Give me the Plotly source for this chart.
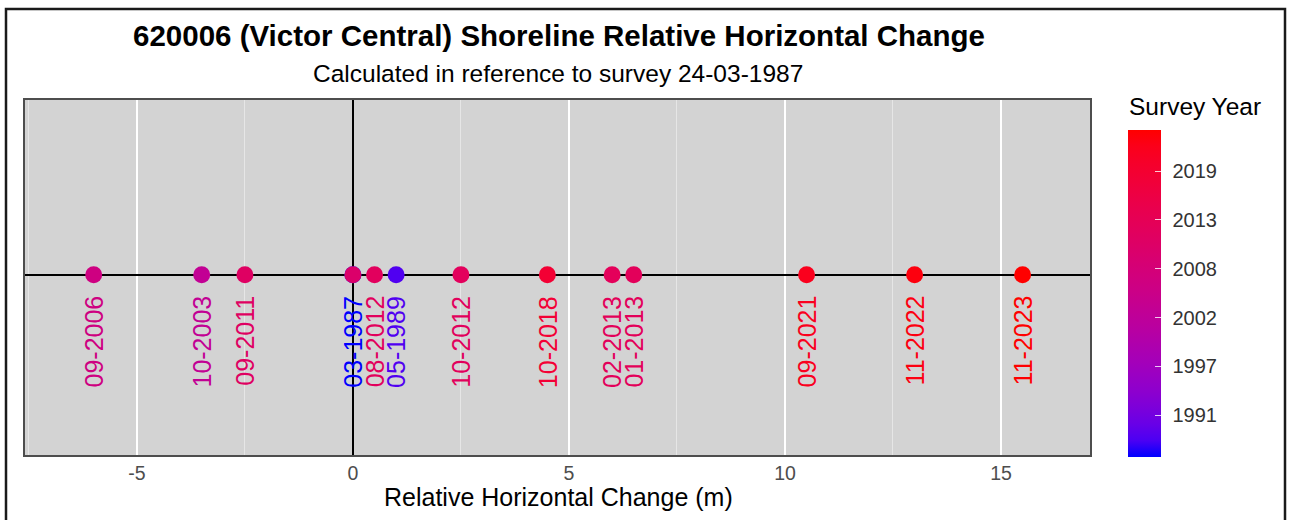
import numpy as np
import pandas as pd
import plotly.graph_objects as go

# ---------------- data ----------------
survey_labels = ["09-2006", "10-2003", "09-2011", "03-1987", "", "08-2012", "05-1989",
                 "10-2012", "10-2018", "02-2013", "01-2013", "09-2021", "11-2022", "11-2023"]
survey_dates = ["2006-09-15", "2003-10-15", "2011-09-15", "1987-03-24", "2010-06-15",
                "2012-08-15", "1989-05-15", "2012-10-15", "2018-10-15", "2013-02-15",
                "2013-01-15", "2021-09-15", "2022-11-15", "2023-11-20"]
horizontal_change = [-6.0, -3.5, -2.5, 0.0, 0.0, 0.5, 1.0, 2.5, 4.5, 6.0, 6.5, 10.5, 13.0, 15.5]
x_tick_vals = [-5, 0, 5, 10, 15]
x_tick_text = ["-5", "0", "5", "10", "15"]
colorbar_tick_days = [8000, 10000, 12000, 14000, 16000, 18000]
colorbar_tick_text = ["1991", "1997", "2002", "2008", "2013", "2019"]

days = [(pd.Timestamp(d) - pd.Timestamp("1970-01-01")).days for d in survey_dates]

# ---------------- colour (Lab interpolation blue -> red, like ggplot) ----------------
def srgb_to_lab(rgb):
    c = np.array(rgb) / 255.0
    lin = np.where(c <= 0.04045, c / 12.92, ((c + 0.055) / 1.055) ** 2.4)
    M = np.array([[0.4124, 0.3576, 0.1805], [0.2126, 0.7152, 0.0722], [0.0193, 0.1192, 0.9505]])
    xyz = M @ lin
    wp = np.array([0.95047, 1.0, 1.08883])
    t = xyz / wp
    f = np.where(t > (6 / 29) ** 3, np.cbrt(t), t / (3 * (6 / 29) ** 2) + 4 / 29)
    return np.array([116 * f[1] - 16, 500 * (f[0] - f[1]), 200 * (f[1] - f[2])])

def lab_to_srgb(lab):
    L, a, b = lab
    fy = (L + 16) / 116
    fx = fy + a / 500
    fz = fy - b / 200
    def finv(f):
        return f ** 3 if f > 6 / 29 else 3 * (6 / 29) ** 2 * (f - 4 / 29)
    wp = np.array([0.95047, 1.0, 1.08883])
    xyz = np.array([finv(fx), finv(fy), finv(fz)]) * wp
    Minv = np.array([[3.2406, -1.5372, -0.4986], [-0.9689, 1.8758, 0.0415], [0.0557, -0.2040, 1.0570]])
    lin = Minv @ xyz
    lin = np.clip(lin, 0, 1)
    c = np.where(lin <= 0.0031308, 12.92 * lin, 1.055 * lin ** (1 / 2.4) - 0.055)
    c = np.clip(np.round(c * 255), 0, 255).astype(int)
    return "rgb(%d,%d,%d)" % tuple(c)

LAB_LO = srgb_to_lab([0, 0, 255])
LAB_HI = srgb_to_lab([255, 0, 0])

def col(t):
    return lab_to_srgb(LAB_LO + (LAB_HI - LAB_LO) * t)

colorscale = [[i / 20, col(i / 20)] for i in range(21)]
dmin, dmax = min(days), max(days)
label_colors = [col((d - dmin) / (dmax - dmin)) for d in days]

# ---------------- figure ----------------
W, H = 1290, 520
L, R, T, B = 25, 200, 100, 65
pw, ph = W - L - R, H - T - B
FONT = "Liberation Sans, Arial"

def px_x(p):
    return (p - L) / pw

def px_y(p):
    return (H - B - p) / ph

cb_common = dict(thickness=33, lenmode="pixels", len=327, yanchor="bottom", y=px_y(457),
                 xanchor="left", x=px_x(1128), xpad=0, ypad=0, outlinewidth=0,
                 tickvals=colorbar_tick_days)

fig = go.Figure()
# main colourbar with labels (transparent outside ticks to space labels)
fig.add_trace(go.Scatter(
    x=horizontal_change, y=[0] * len(horizontal_change), mode="markers",
    marker=dict(size=17, color=days, colorscale=colorscale, cmin=dmin, cmax=dmax,
                line=dict(width=0),
                colorbar=dict(**cb_common, ticktext=colorbar_tick_text,
                              ticks="outside", tickcolor="rgba(0,0,0,0)", ticklen=8, tickwidth=1,
                              tickfont=dict(family=FONT, size=20, color="#333333"))),
    hoverinfo="skip", showlegend=False,
))
# overlay colourbar providing the white inside tick marks
fig.add_trace(go.Scatter(
    x=horizontal_change, y=[0] * len(horizontal_change), mode="markers",
    marker=dict(size=17, color=days, colorscale=colorscale, cmin=dmin, cmax=dmax, opacity=0,
                line=dict(width=0),
                colorbar=dict(**cb_common, showticklabels=False,
                              ticks="inside", tickcolor="rgba(255,255,255,0.8)", ticklen=6, tickwidth=1)),
    hoverinfo="skip", showlegend=False,
))

annotations = []
for xv, lab, c in zip(horizontal_change, survey_labels, label_colors):
    if not lab:
        continue
    annotations.append(dict(
        x=xv, y=0, xref="x", yref="y", text=lab, showarrow=False, textangle=-90,
        xanchor="center", yanchor="top", yshift=-19,
        font=dict(family=FONT, size=25, color=c),
    ))

annotations += [
    dict(text="<b>620006 (Victor Central) Shoreline Relative Horizontal Change</b>",
         x=px_x(559), y=px_y(35), xref="paper", yref="paper", showarrow=False,
         xanchor="center", yanchor="middle",
         font=dict(family=FONT, size=29.5, color="black")),
    dict(text="Calculated in reference to survey 24-03-1987",
         x=px_x(558), y=px_y(73), xref="paper", yref="paper", showarrow=False,
         xanchor="center", yanchor="middle",
         font=dict(family=FONT, size=24.5, color="black")),
    dict(text="Relative Horizontal Change (m)",
         x=px_x(558), y=px_y(497), xref="paper", yref="paper", showarrow=False,
         xanchor="center", yanchor="middle",
         font=dict(family=FONT, size=25, color="black")),
    dict(text="Survey Year",
         x=px_x(1127), y=px_y(107), xref="paper", yref="paper", showarrow=False,
         xanchor="left", yanchor="middle",
         font=dict(family=FONT, size=24.5, color="black")),
]

fig.update_layout(
    width=W, height=H, margin=dict(l=L, r=R, t=T, b=B),
    paper_bgcolor="white", plot_bgcolor="#D3D3D3",
    annotations=annotations,
    shapes=[dict(type="rect", xref="paper", yref="paper",
                 x0=px_x(6), x1=px_x(1285), y0=px_y(530), y1=px_y(9),
                 line=dict(color="#1a1a1a", width=2.5), layer="above")],
    xaxis=dict(range=[-7.59, 17.06], tickvals=x_tick_vals, ticktext=x_tick_text,
               showgrid=True, gridcolor="white", gridwidth=2,
               minor=dict(showgrid=True, gridcolor="#E6E6E6", gridwidth=1, tickvals=[-7.5, -2.5, 2.5, 7.5, 12.5]),
               zeroline=True, zerolinecolor="black", zerolinewidth=2,
               showline=True, mirror=True, linecolor="#4d4d4d", linewidth=1.5,
               ticks="", tickfont=dict(family=FONT, size=19.5, color="#4D4D4D"),
               fixedrange=True),
    yaxis=dict(range=[-1, 0.97], showgrid=False, showticklabels=False,
               zeroline=True, zerolinecolor="black", zerolinewidth=2,
               showline=True, mirror=True, linecolor="#4d4d4d", linewidth=1.5,
               ticks="", fixedrange=True),
)

fig.write_html("out.html")
